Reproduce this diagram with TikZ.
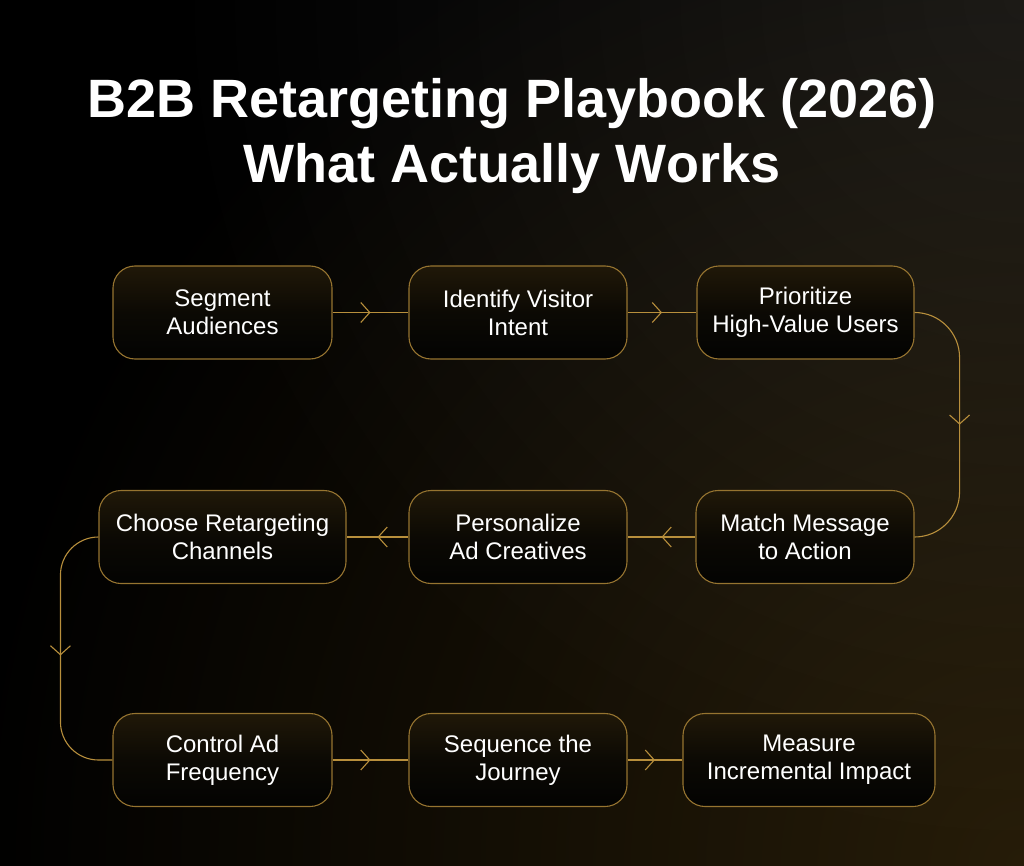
\documentclass[tikz,border=0pt]{standalone}
\usepackage{fontspec}
\setmainfont{Liberation Sans}
\usetikzlibrary{arrows.meta,decorations.markings,calc}
\definecolor{gold}{RGB}{184,143,60}
\definecolor{boxline}{RGB}{150,116,48}
\definecolor{boxtop}{RGB}{32,24,8}
\definecolor{boxbot}{RGB}{3,3,2}
\definecolor{bgright}{RGB}{21,21,21}
\definecolor{bgglow}{RGB}{38,28,8}
\begin{document}
\begin{tikzpicture}[x=1pt,y=-1pt,
  stepbox/.style={draw=boxline, line width=1.1pt, rounded corners=22pt, top color=boxtop, bottom color=boxbot, middle color=boxbot!70!boxtop,
    minimum height=93pt, text=white, align=center, font=\fontsize{24}{28}\selectfont, inner sep=0pt},
  conn/.style={draw=gold, line width=1.1pt, postaction={decorate},
    decoration={markings, mark=at position 0.5 with {\arrow{Straight Barb[length=9pt,width=20pt,line width=1.1pt]}}}},
  titletext/.style={text=white, font=\bfseries\fontsize{54}{64}\selectfont, anchor=base, inner sep=0pt}
]
\useasboundingbox (0,0) rectangle (1024,866);
\fill[black] (0,0) rectangle (1024,866);
\begin{scope}
  \clip (0,0) rectangle (1024,866);
  \shade[inner color=bgglow, outer color=black, blend mode=screen] (1024,866) circle[radius=1050pt];
  \shade[inner color=bgright, outer color=black, blend mode=screen] (1024,0) circle[radius=850pt];
\end{scope}

\node[titletext] (t1) at (512,118) {B2B Retargeting Playbook (2026)};
\node[titletext] (t2) at (512,183) {What Actually Works};

\node[stepbox, minimum width=219pt] (s1) at (222.5,312.5) {Segment\\Audiences};
\node[stepbox, minimum width=218pt] (s2) at (518,312.5) {Identify Visitor\\Intent};
\node[stepbox, minimum width=217pt] (s3) at (805.5,312.5) {Prioritize\\High-Value Users};
\node[stepbox, minimum width=218pt] (s4) at (805,537) {Match Message\\to Action};
\node[stepbox, minimum width=218pt] (s5) at (518,537) {Personalize\\Ad Creatives};
\node[stepbox, minimum width=247pt] (s6) at (222.5,537) {Choose Retargeting\\Channels};
\node[stepbox, minimum width=219pt] (s7) at (222.5,760) {Control Ad\\Frequency};
\node[stepbox, minimum width=218pt] (s8) at (518,760) {Sequence the\\Journey};
\node[stepbox, minimum width=252pt] (s9) at (809,760) {Measure\\Incremental Impact};

\draw[conn] (s1) -- (s2);
\draw[conn] (s2) -- (s3);
\draw[conn, rounded corners=45pt] (s3.east) -- ++(45,0) |- (s4.east);
\draw[conn] (s4) -- (s5);
\draw[conn] (s5) -- (s6);
\draw[conn, rounded corners=38pt] (s6.west) -- ++(-38,0) |- (s7.west);
\draw[conn] (s7) -- (s8);
\draw[conn] (s8) -- (s9);
\end{tikzpicture}
\end{document}
